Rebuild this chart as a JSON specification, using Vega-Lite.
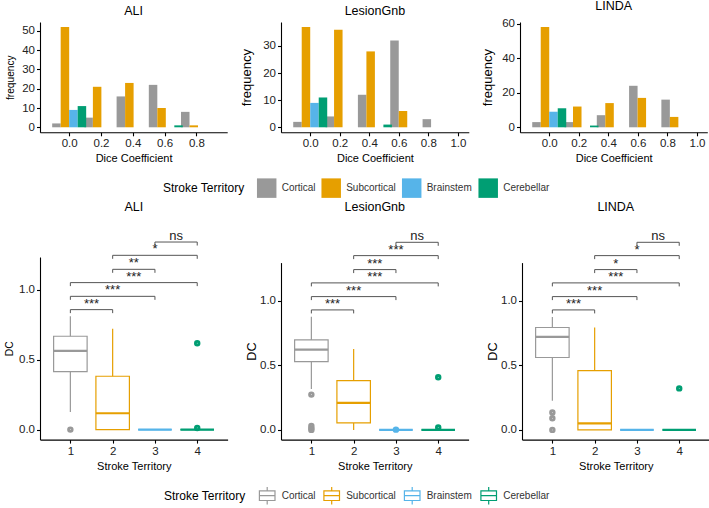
{
  "$schema": "https://vega.github.io/schema/vega-lite/v6.json",
  "padding": {"left": 4, "top": 0, "right": 0, "bottom": 0},
  "config": {
    "view": {"stroke": null},
    "font": "Liberation Sans",
    "axis": {"grid": false, "domainColor": "#000", "domainWidth": 1.1, "tickColor": "#000", "tickSize": 3.5, "tickWidth": 1.1, "labelColor": "#222", "labelFontSize": 11.5, "labelPadding": 2, "titleColor": "#000", "titleFontWeight": "normal", "titleFontSize": 11, "labelFont": "Liberation Sans", "titleFont": "Liberation Sans"},
    "axisX": {"titlePadding": 3.5},
    "axisY": {"minExtent": 18, "maxExtent": 18},
    "title": {"fontSize": 12.5, "fontWeight": "normal", "font": "Liberation Sans", "color": "#000", "offset": 5},
    "legend": {"orient": "bottom", "direction": "horizontal", "titleOrient": "left", "titleFontSize": 12, "titleFontWeight": "normal", "titleColor": "#000", "labelFontSize": 10, "labelColor": "#333", "columnPadding": 5.5, "labelOffset": 5, "titlePadding": 11.7, "padding": 0, "offset": 14, "layout": {"bottom": {"anchor": "middle"}}}
  },
  "datasets": {
    "hist": [
      {"p": "ALI", "t": "Cortical", "dc": 0, "n": 2},
      {"p": "ALI", "t": "Subcortical", "dc": 0, "n": 52},
      {"p": "ALI", "t": "Brainstem", "dc": 0, "n": 9},
      {"p": "ALI", "t": "Cerebellar", "dc": 0, "n": 11},
      {"p": "ALI", "t": "Cortical", "dc": 0.2025, "n": 5},
      {"p": "ALI", "t": "Subcortical", "dc": 0.2025, "n": 21},
      {"p": "ALI", "t": "Cortical", "dc": 0.405, "n": 16},
      {"p": "ALI", "t": "Subcortical", "dc": 0.405, "n": 23},
      {"p": "ALI", "t": "Cortical", "dc": 0.6075, "n": 22},
      {"p": "ALI", "t": "Subcortical", "dc": 0.6075, "n": 10},
      {"p": "ALI", "t": "Cerebellar", "dc": 0.6075, "n": 1},
      {"p": "ALI", "t": "Cortical", "dc": 0.81, "n": 8},
      {"p": "ALI", "t": "Subcortical", "dc": 0.81, "n": 1},
      {"p": "LesionGnb", "t": "Cortical", "dc": 0, "n": 2},
      {"p": "LesionGnb", "t": "Subcortical", "dc": 0, "n": 37},
      {"p": "LesionGnb", "t": "Brainstem", "dc": 0, "n": 9},
      {"p": "LesionGnb", "t": "Cerebellar", "dc": 0, "n": 11},
      {"p": "LesionGnb", "t": "Cortical", "dc": 0.219, "n": 4},
      {"p": "LesionGnb", "t": "Subcortical", "dc": 0.219, "n": 36},
      {"p": "LesionGnb", "t": "Cortical", "dc": 0.438, "n": 12},
      {"p": "LesionGnb", "t": "Subcortical", "dc": 0.438, "n": 28},
      {"p": "LesionGnb", "t": "Cerebellar", "dc": 0.438, "n": 1},
      {"p": "LesionGnb", "t": "Cortical", "dc": 0.657, "n": 32},
      {"p": "LesionGnb", "t": "Subcortical", "dc": 0.657, "n": 6},
      {"p": "LesionGnb", "t": "Cortical", "dc": 0.876, "n": 3},
      {"p": "LINDA", "t": "Cortical", "dc": 0, "n": 3},
      {"p": "LINDA", "t": "Subcortical", "dc": 0, "n": 58},
      {"p": "LINDA", "t": "Brainstem", "dc": 0, "n": 9},
      {"p": "LINDA", "t": "Cerebellar", "dc": 0, "n": 11},
      {"p": "LINDA", "t": "Cortical", "dc": 0.2185, "n": 3},
      {"p": "LINDA", "t": "Subcortical", "dc": 0.2185, "n": 12},
      {"p": "LINDA", "t": "Cerebellar", "dc": 0.2185, "n": 1},
      {"p": "LINDA", "t": "Cortical", "dc": 0.437, "n": 7},
      {"p": "LINDA", "t": "Subcortical", "dc": 0.437, "n": 14},
      {"p": "LINDA", "t": "Cortical", "dc": 0.6555, "n": 24},
      {"p": "LINDA", "t": "Subcortical", "dc": 0.6555, "n": 17},
      {"p": "LINDA", "t": "Cortical", "dc": 0.874, "n": 16},
      {"p": "LINDA", "t": "Subcortical", "dc": 0.874, "n": 6}
    ],
    "box": [
      {"p": "ALI", "t": "Cortical", "g": 1, "lower": 0.126, "q1": 0.414, "median": 0.562, "q3": 0.667, "upper": 0.81},
      {"p": "ALI", "t": "Subcortical", "g": 2, "lower": 0, "q1": 0, "median": 0.117, "q3": 0.381, "upper": 0.721},
      {"p": "ALI", "t": "Brainstem", "g": 3, "lower": 0, "q1": 0, "median": 0, "q3": 0, "upper": 0},
      {"p": "ALI", "t": "Cerebellar", "g": 4, "lower": 0, "q1": 0, "median": 0, "q3": 0, "upper": 0},
      {"p": "LesionGnb", "t": "Cortical", "g": 1, "lower": 0.317, "q1": 0.528, "median": 0.621, "q3": 0.696, "upper": 0.876},
      {"p": "LesionGnb", "t": "Subcortical", "g": 2, "lower": 0, "q1": 0.054, "median": 0.209, "q3": 0.381, "upper": 0.626},
      {"p": "LesionGnb", "t": "Brainstem", "g": 3, "lower": 0, "q1": 0, "median": 0, "q3": 0, "upper": 0},
      {"p": "LesionGnb", "t": "Cerebellar", "g": 4, "lower": 0, "q1": 0, "median": 0, "q3": 0, "upper": 0},
      {"p": "LINDA", "t": "Cortical", "g": 1, "lower": 0.226, "q1": 0.56, "median": 0.72, "q3": 0.792, "upper": 0.874},
      {"p": "LINDA", "t": "Subcortical", "g": 2, "lower": 0, "q1": 0, "median": 0.051, "q3": 0.458, "upper": 0.792},
      {"p": "LINDA", "t": "Brainstem", "g": 3, "lower": 0, "q1": 0, "median": 0, "q3": 0, "upper": 0},
      {"p": "LINDA", "t": "Cerebellar", "g": 4, "lower": 0, "q1": 0, "median": 0, "q3": 0, "upper": 0}
    ],
    "out": [
      {"p": "ALI", "t": "Cortical", "g": 1, "v": 0},
      {"p": "ALI", "t": "Cerebellar", "g": 4, "v": 0.617},
      {"p": "ALI", "t": "Cerebellar", "g": 4, "v": 0.012},
      {"p": "LesionGnb", "t": "Cortical", "g": 1, "v": 0.273},
      {"p": "LesionGnb", "t": "Cortical", "g": 1, "v": 0.03},
      {"p": "LesionGnb", "t": "Cortical", "g": 1, "v": 0.012},
      {"p": "LesionGnb", "t": "Cortical", "g": 1, "v": 0},
      {"p": "LesionGnb", "t": "Brainstem", "g": 3, "v": 0.002},
      {"p": "LesionGnb", "t": "Cerebellar", "g": 4, "v": 0.407},
      {"p": "LesionGnb", "t": "Cerebellar", "g": 4, "v": 0.018},
      {"p": "LINDA", "t": "Cortical", "g": 1, "v": 0.134},
      {"p": "LINDA", "t": "Cortical", "g": 1, "v": 0.09},
      {"p": "LINDA", "t": "Cortical", "g": 1, "v": 0},
      {"p": "LINDA", "t": "Cerebellar", "g": 4, "v": 0.321}
    ],
    "brk": [
      {"p": "ALI", "g1": 1, "g2": 2, "y": 0.857, "lab": "***"},
      {"p": "ALI", "g1": 1, "g2": 3, "y": 0.952, "lab": "***"},
      {"p": "ALI", "g1": 1, "g2": 4, "y": 1.05, "lab": "***"},
      {"p": "ALI", "g1": 2, "g2": 3, "y": 1.145, "lab": "**"},
      {"p": "ALI", "g1": 2, "g2": 4, "y": 1.245, "lab": "*"},
      {"p": "ALI", "g1": 3, "g2": 4, "y": 1.34, "lab": "ns"},
      {"p": "LesionGnb", "g1": 1, "g2": 2, "y": 0.928, "lab": "***"},
      {"p": "LesionGnb", "g1": 1, "g2": 3, "y": 1.031, "lab": "***"},
      {"p": "LesionGnb", "g1": 1, "g2": 4, "y": 1.137, "lab": "***"},
      {"p": "LesionGnb", "g1": 2, "g2": 3, "y": 1.24, "lab": "***"},
      {"p": "LesionGnb", "g1": 2, "g2": 4, "y": 1.348, "lab": "***"},
      {"p": "LesionGnb", "g1": 3, "g2": 4, "y": 1.451, "lab": "ns"},
      {"p": "LINDA", "g1": 1, "g2": 2, "y": 0.928, "lab": "***"},
      {"p": "LINDA", "g1": 1, "g2": 3, "y": 1.031, "lab": "***"},
      {"p": "LINDA", "g1": 1, "g2": 4, "y": 1.137, "lab": "***"},
      {"p": "LINDA", "g1": 2, "g2": 3, "y": 1.24, "lab": "*"},
      {"p": "LINDA", "g1": 2, "g2": 4, "y": 1.348, "lab": "*"},
      {"p": "LINDA", "g1": 3, "g2": 4, "y": 1.451, "lab": "ns"}
    ]
  },
  "vconcat": [
    {
      "hconcat": [
        {
          "title": "ALI", "width": 187.2, "height": 110.3,
          "data": {"name": "hist"},
          "transform": [{"filter": "datum.p == 'ALI'"}],
          "encoding": {
            "x": {"field": "dc", "type": "quantitative", "scale": {"domain": [-0.152, 0.962], "nice": false, "zero": false}, "axis": {"values": [0, 0.2, 0.4, 0.6, 0.8], "format": ".1f", "title": "Dice Coefficient"}},
            "y": {"field": "n", "type": "quantitative", "stack": null, "scale": {"domain": [-2.6, 54.6], "nice": false}, "axis": {"values": [0, 10, 20, 30, 40, 50], "title": "frequency", "titleFontSize": 10.2, "titlePadding": 6.3}},
            "color": {"field": "t", "type": "nominal", "scale": {"domain": ["Cortical", "Subcortical", "Brainstem", "Cerebellar"], "range": ["#999999", "#E69F00", "#56B4E9", "#009E73"]}, "legend": {"title": "Stroke Territory", "symbolType": "square", "symbolSize": 380, "symbolStrokeWidth": 0}}
          },
          "layer": [
            {"transform": [{"filter": "datum.t == 'Cortical'"}], "mark": {"type": "bar", "width": 8.5, "xOffset": -12.75}},
            {"transform": [{"filter": "datum.t == 'Subcortical'"}], "mark": {"type": "bar", "width": 8.5, "xOffset": -4.25}},
            {"transform": [{"filter": "datum.t == 'Brainstem'"}], "mark": {"type": "bar", "width": 8.5, "xOffset": 4.25}},
            {"transform": [{"filter": "datum.t == 'Cerebellar'"}], "mark": {"type": "bar", "width": 8.5, "xOffset": 12.75}}
          ]
        },
        {
          "title": "LesionGnb", "width": 187.8, "height": 110.3,
          "data": {"name": "hist"},
          "transform": [{"filter": "datum.p == 'LesionGnb'"}],
          "encoding": {
            "x": {"field": "dc", "type": "quantitative", "scale": {"domain": [-0.164, 1.04], "nice": false, "zero": false}, "axis": {"values": [0, 0.2, 0.4, 0.6, 0.8, 1.0], "format": ".1f", "title": "Dice Coefficient"}},
            "y": {"field": "n", "type": "quantitative", "stack": null, "scale": {"domain": [-1.85, 38.85], "nice": false}, "axis": {"values": [0, 10, 20, 30], "title": "frequency", "titleFontSize": 13, "titlePadding": 9.4}},
            "color": {"field": "t", "type": "nominal", "scale": {"domain": ["Cortical", "Subcortical", "Brainstem", "Cerebellar"], "range": ["#999999", "#E69F00", "#56B4E9", "#009E73"]}}
          },
          "layer": [
            {"transform": [{"filter": "datum.t == 'Cortical'"}], "mark": {"type": "bar", "width": 8.5, "xOffset": -12.75}},
            {"transform": [{"filter": "datum.t == 'Subcortical'"}], "mark": {"type": "bar", "width": 8.5, "xOffset": -4.25}},
            {"transform": [{"filter": "datum.t == 'Brainstem'"}], "mark": {"type": "bar", "width": 8.5, "xOffset": 4.25}},
            {"transform": [{"filter": "datum.t == 'Cerebellar'"}], "mark": {"type": "bar", "width": 8.5, "xOffset": 12.75}}
          ]
        },
        {
          "title": "LINDA", "width": 187.3, "height": 110.3,
          "data": {"name": "hist"},
          "transform": [{"filter": "datum.p == 'LINDA'"}],
          "encoding": {
            "x": {"field": "dc", "type": "quantitative", "scale": {"domain": [-0.164, 1.036], "nice": false, "zero": false}, "axis": {"values": [0, 0.2, 0.4, 0.6, 0.8, 1.0], "format": ".1f", "title": "Dice Coefficient"}},
            "y": {"field": "n", "type": "quantitative", "stack": null, "scale": {"domain": [-2.9, 60.9], "nice": false}, "axis": {"values": [0, 20, 40, 60], "title": "frequency", "titleFontSize": 13, "titlePadding": 7.5}},
            "color": {"field": "t", "type": "nominal", "scale": {"domain": ["Cortical", "Subcortical", "Brainstem", "Cerebellar"], "range": ["#999999", "#E69F00", "#56B4E9", "#009E73"]}}
          },
          "layer": [
            {"transform": [{"filter": "datum.t == 'Cortical'"}], "mark": {"type": "bar", "width": 8.5, "xOffset": -12.75}},
            {"transform": [{"filter": "datum.t == 'Subcortical'"}], "mark": {"type": "bar", "width": 8.5, "xOffset": -4.25}},
            {"transform": [{"filter": "datum.t == 'Brainstem'"}], "mark": {"type": "bar", "width": 8.5, "xOffset": 4.25}},
            {"transform": [{"filter": "datum.t == 'Cerebellar'"}], "mark": {"type": "bar", "width": 8.5, "xOffset": 12.75}}
          ]
        }
      ],
      "spacing": 12,
      "resolve": {"scale": {"color": "shared"}, "legend": {"color": "shared"}}
    },
    {
      "hconcat": [
        {
          "title": {"text": "ALI", "offset": 17}, "width": 187.6, "height": 182.6,
          "layer": [
            {"data": {"name": "box"}, "transform": [{"filter": "datum.p == 'ALI'"}], "mark": {"type": "rule", "strokeWidth": 1.2},
             "encoding": {"x": {"field": "g", "type": "quantitative", "scale": {"domain": [0.4, 4.6], "nice": false, "zero": false}, "axis": {"values": [1, 2, 3, 4], "format": "d", "title": "Stroke Territory"}},
                          "y": {"field": "lower", "type": "quantitative", "scale": {"domain": [-0.0714, 1.233], "nice": false, "zero": false}, "axis": {"values": [0, 0.5, 1.0], "format": ".1f", "title": "DC", "titleFontSize": 10.4, "titlePadding": 8}},
                          "y2": {"field": "upper"},
                          "stroke": {"field": "t", "type": "nominal", "scale": {"domain": ["Cortical", "Subcortical", "Brainstem", "Cerebellar"], "range": ["#999999", "#E69F00", "#56B4E9", "#009E73"]}, "legend": {"title": "Stroke Territory", "symbolType": "M-0.9,-0.55H0.9V0.55H-0.9ZM-0.9,0H0.9M0,-0.55V-1M0,0.55V1", "symbolSize": 300, "symbolStrokeWidth": 1.2, "symbolFillColor": "white"}}}},
            {"data": {"name": "box"}, "transform": [{"filter": "datum.p == 'ALI'"}], "mark": {"type": "bar", "width": 33.5, "fill": "white", "strokeWidth": 1.2},
             "encoding": {"x": {"field": "g", "type": "quantitative"}, "y": {"field": "q1", "type": "quantitative"}, "y2": {"field": "q3"}, "stroke": {"field": "t", "type": "nominal"}}},
            {"data": {"name": "box"}, "transform": [{"filter": "datum.p == 'ALI'"}], "mark": {"type": "rule", "strokeWidth": 2.2, "xOffset": -16.75, "x2Offset": 16.75},
             "encoding": {"x": {"field": "g", "type": "quantitative"}, "x2": {"field": "g"}, "y": {"field": "median", "type": "quantitative"}, "stroke": {"field": "t", "type": "nominal"}}},
            {"data": {"name": "out"}, "transform": [{"filter": "datum.p == 'ALI'"}], "mark": {"type": "point", "filled": false, "size": 8, "strokeWidth": 3.6, "opacity": 1},
             "encoding": {"x": {"field": "g", "type": "quantitative"}, "y": {"field": "v", "type": "quantitative"}, "stroke": {"field": "t", "type": "nominal"}}},
            {"data": {"name": "brk"}, "transform": [{"filter": "datum.p == 'ALI'"}], "mark": {"type": "rule", "color": "#555555", "strokeWidth": 1},
             "encoding": {"x": {"field": "g1", "type": "quantitative"}, "x2": {"field": "g2"}, "y": {"field": "y", "type": "quantitative"}}},
            {"data": {"name": "brk"}, "transform": [{"filter": "datum.p == 'ALI'"}], "mark": {"type": "rule", "color": "#555555", "strokeWidth": 1, "y2Offset": 3.5},
             "encoding": {"x": {"field": "g1", "type": "quantitative"}, "y": {"field": "y", "type": "quantitative"}, "y2": {"field": "y"}}},
            {"data": {"name": "brk"}, "transform": [{"filter": "datum.p == 'ALI'"}], "mark": {"type": "rule", "color": "#555555", "strokeWidth": 1, "y2Offset": 3.5},
             "encoding": {"x": {"field": "g2", "type": "quantitative"}, "y": {"field": "y", "type": "quantitative"}, "y2": {"field": "y"}}},
            {"data": {"name": "brk"}, "transform": [{"filter": "datum.p == 'ALI'"}, {"calculate": "(datum.g1 + datum.g2) / 2", "as": "xm"}], "mark": {"type": "text", "fontSize": 13, "color": "#222", "baseline": "alphabetic", "dy": -2},
             "encoding": {"x": {"field": "xm", "type": "quantitative"}, "y": {"field": "y", "type": "quantitative"}, "text": {"field": "lab"}}}
          ]
        },
        {
          "title": {"text": "LesionGnb", "offset": 17}, "width": 187.6, "height": 182.6,
          "layer": [
            {"data": {"name": "box"}, "transform": [{"filter": "datum.p == 'LesionGnb'"}], "mark": {"type": "rule", "strokeWidth": 1.2},
             "encoding": {"x": {"field": "g", "type": "quantitative", "scale": {"domain": [0.4, 4.6], "nice": false, "zero": false}, "axis": {"values": [1, 2, 3, 4], "format": "d", "title": "Stroke Territory"}},
                          "y": {"field": "lower", "type": "quantitative", "scale": {"domain": [-0.075, 1.294], "range": [182.6, 5.6], "nice": false, "zero": false}, "axis": {"values": [0, 0.5, 1.0], "format": ".1f", "title": "DC", "titleFontSize": 12.7, "titlePadding": 5}},
                          "y2": {"field": "upper"},
                          "stroke": {"field": "t", "type": "nominal"}}},
            {"data": {"name": "box"}, "transform": [{"filter": "datum.p == 'LesionGnb'"}], "mark": {"type": "bar", "width": 33.5, "fill": "white", "strokeWidth": 1.2},
             "encoding": {"x": {"field": "g", "type": "quantitative"}, "y": {"field": "q1", "type": "quantitative"}, "y2": {"field": "q3"}, "stroke": {"field": "t", "type": "nominal"}}},
            {"data": {"name": "box"}, "transform": [{"filter": "datum.p == 'LesionGnb'"}], "mark": {"type": "rule", "strokeWidth": 2.2, "xOffset": -16.75, "x2Offset": 16.75},
             "encoding": {"x": {"field": "g", "type": "quantitative"}, "x2": {"field": "g"}, "y": {"field": "median", "type": "quantitative"}, "stroke": {"field": "t", "type": "nominal"}}},
            {"data": {"name": "out"}, "transform": [{"filter": "datum.p == 'LesionGnb'"}], "mark": {"type": "point", "filled": false, "size": 8, "strokeWidth": 3.6, "opacity": 1},
             "encoding": {"x": {"field": "g", "type": "quantitative"}, "y": {"field": "v", "type": "quantitative"}, "stroke": {"field": "t", "type": "nominal"}}},
            {"data": {"name": "brk"}, "transform": [{"filter": "datum.p == 'LesionGnb'"}], "mark": {"type": "rule", "color": "#555555", "strokeWidth": 1},
             "encoding": {"x": {"field": "g1", "type": "quantitative"}, "x2": {"field": "g2"}, "y": {"field": "y", "type": "quantitative"}}},
            {"data": {"name": "brk"}, "transform": [{"filter": "datum.p == 'LesionGnb'"}], "mark": {"type": "rule", "color": "#555555", "strokeWidth": 1, "y2Offset": 3.5},
             "encoding": {"x": {"field": "g1", "type": "quantitative"}, "y": {"field": "y", "type": "quantitative"}, "y2": {"field": "y"}}},
            {"data": {"name": "brk"}, "transform": [{"filter": "datum.p == 'LesionGnb'"}], "mark": {"type": "rule", "color": "#555555", "strokeWidth": 1, "y2Offset": 3.5},
             "encoding": {"x": {"field": "g2", "type": "quantitative"}, "y": {"field": "y", "type": "quantitative"}, "y2": {"field": "y"}}},
            {"data": {"name": "brk"}, "transform": [{"filter": "datum.p == 'LesionGnb'"}, {"calculate": "(datum.g1 + datum.g2) / 2", "as": "xm"}], "mark": {"type": "text", "fontSize": 13, "color": "#222", "baseline": "alphabetic", "dy": -2},
             "encoding": {"x": {"field": "xm", "type": "quantitative"}, "y": {"field": "y", "type": "quantitative"}, "text": {"field": "lab"}}}
          ]
        },
        {
          "title": {"text": "LINDA", "offset": 17}, "width": 187.6, "height": 182.6,
          "layer": [
            {"data": {"name": "box"}, "transform": [{"filter": "datum.p == 'LINDA'"}], "mark": {"type": "rule", "strokeWidth": 1.2},
             "encoding": {"x": {"field": "g", "type": "quantitative", "scale": {"domain": [0.4, 4.6], "nice": false, "zero": false}, "axis": {"values": [1, 2, 3, 4], "format": "d", "title": "Stroke Territory"}},
                          "y": {"field": "lower", "type": "quantitative", "scale": {"domain": [-0.075, 1.294], "range": [182.6, 5.6], "nice": false, "zero": false}, "axis": {"values": [0, 0.5, 1.0], "format": ".1f", "title": "DC", "titleFontSize": 12.7, "titlePadding": 5}},
                          "y2": {"field": "upper"},
                          "stroke": {"field": "t", "type": "nominal"}}},
            {"data": {"name": "box"}, "transform": [{"filter": "datum.p == 'LINDA'"}], "mark": {"type": "bar", "width": 33.5, "fill": "white", "strokeWidth": 1.2},
             "encoding": {"x": {"field": "g", "type": "quantitative"}, "y": {"field": "q1", "type": "quantitative"}, "y2": {"field": "q3"}, "stroke": {"field": "t", "type": "nominal"}}},
            {"data": {"name": "box"}, "transform": [{"filter": "datum.p == 'LINDA'"}], "mark": {"type": "rule", "strokeWidth": 2.2, "xOffset": -16.75, "x2Offset": 16.75},
             "encoding": {"x": {"field": "g", "type": "quantitative"}, "x2": {"field": "g"}, "y": {"field": "median", "type": "quantitative"}, "stroke": {"field": "t", "type": "nominal"}}},
            {"data": {"name": "out"}, "transform": [{"filter": "datum.p == 'LINDA'"}], "mark": {"type": "point", "filled": false, "size": 8, "strokeWidth": 3.6, "opacity": 1},
             "encoding": {"x": {"field": "g", "type": "quantitative"}, "y": {"field": "v", "type": "quantitative"}, "stroke": {"field": "t", "type": "nominal"}}},
            {"data": {"name": "brk"}, "transform": [{"filter": "datum.p == 'LINDA'"}], "mark": {"type": "rule", "color": "#555555", "strokeWidth": 1},
             "encoding": {"x": {"field": "g1", "type": "quantitative"}, "x2": {"field": "g2"}, "y": {"field": "y", "type": "quantitative"}}},
            {"data": {"name": "brk"}, "transform": [{"filter": "datum.p == 'LINDA'"}], "mark": {"type": "rule", "color": "#555555", "strokeWidth": 1, "y2Offset": 3.5},
             "encoding": {"x": {"field": "g1", "type": "quantitative"}, "y": {"field": "y", "type": "quantitative"}, "y2": {"field": "y"}}},
            {"data": {"name": "brk"}, "transform": [{"filter": "datum.p == 'LINDA'"}], "mark": {"type": "rule", "color": "#555555", "strokeWidth": 1, "y2Offset": 3.5},
             "encoding": {"x": {"field": "g2", "type": "quantitative"}, "y": {"field": "y", "type": "quantitative"}, "y2": {"field": "y"}}},
            {"data": {"name": "brk"}, "transform": [{"filter": "datum.p == 'LINDA'"}, {"calculate": "(datum.g1 + datum.g2) / 2", "as": "xm"}], "mark": {"type": "text", "fontSize": 13, "color": "#222", "baseline": "alphabetic", "dy": -2},
             "encoding": {"x": {"field": "xm", "type": "quantitative"}, "y": {"field": "y", "type": "quantitative"}, "text": {"field": "lab"}}}
          ]
        }
      ],
      "spacing": 17,
      "resolve": {"scale": {"stroke": "shared"}, "legend": {"stroke": "shared"}}
    }
  ],
  "spacing": 2,
  "resolve": {"scale": {"color": "independent", "stroke": "independent"}, "legend": {"color": "independent", "stroke": "independent"}}
}
